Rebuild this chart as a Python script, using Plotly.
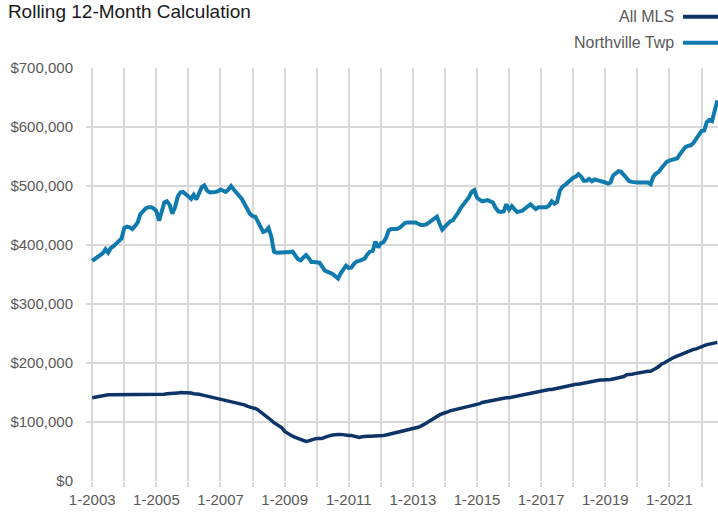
import pandas as pd
import plotly.graph_objects as go

# ---- data (thousands of $), monthly from Jan 2003 to Jul 2022 ----
start_month = "2003-01-01"

northville_k = [
    373, 377, 380, 383, 386, 393, 387, 395, 398, 403, 406, 411,   # 2003
    429, 431, 430, 427, 432, 438, 452, 458, 462, 464, 464, 462,   # 2004
    457, 441, 455, 472, 474, 468, 453, 464, 482, 489, 490, 487,   # 2005
    482, 478, 485, 477, 488, 498, 501, 492, 489, 489, 490, 491,   # 2006
    494, 492, 490, 494, 500, 494, 489, 485, 478, 470, 460, 453,   # 2007
    449, 448, 440, 430, 422, 424, 429, 415, 389, 387, 387, 387,   # 2008
    387, 387, 388, 389, 382, 376, 374, 378, 383, 378, 371, 371,   # 2009
    371, 370, 364, 357, 355, 353, 351, 347, 343, 352, 360, 365,   # 2010
    361, 362, 368, 372, 373, 375, 377, 384, 389, 390, 406, 396,   # 2011
    403, 405, 412, 425, 427, 427, 427, 429, 434, 437, 438, 438,   # 2012
    439, 438, 436, 434, 434, 435, 438, 441, 444, 448, 436, 426,   # 2013
    431, 436, 440, 442, 448, 455, 463, 469, 476, 481, 490, 493,   # 2014
    480, 476, 474, 475, 476, 474, 472, 463, 457, 456, 457, 469,   # 2015
    460, 466, 462, 456, 457, 458, 462, 466, 469, 465, 461, 464,   # 2016
    464, 464, 464, 467, 474, 470, 473, 492, 499, 502, 506, 511,   # 2017
    514, 516, 520, 516, 509, 509, 512, 508, 511, 510, 509, 508,   # 2018
    506, 504, 506, 518, 522, 525, 524, 518, 512, 508, 507, 506,   # 2019
    506, 506, 506, 506, 506, 503, 516, 521, 524, 530, 537, 541,   # 2020
    543, 544, 545, 547, 554, 561, 566, 568, 569, 573, 580, 589,   # 2021
    593, 594, 608, 612, 610, 628, 645,                            # 2022
]

all_mls_k = [
    141, 142, 143, 144, 145, 145, 146, 146, 146, 146, 146, 146,   # 2003
    146, 146, 146, 146, 146, 146, 146, 146, 146, 146, 146, 146,   # 2004
    146, 146, 147, 147, 148, 148, 148, 149, 149, 150, 150, 150,   # 2005
    150, 149, 148, 148, 147, 146, 145, 144, 142, 141, 140, 139,   # 2006
    138, 137, 136, 136, 135, 134, 133, 132, 130, 129, 127, 125,   # 2007
    124, 123, 121, 117, 114, 110, 107, 103, 99, 96, 93, 90,       # 2008
    84, 81, 78, 76, 74, 72, 70, 68, 67, 68, 70, 71,               # 2009
    72, 72, 72, 74, 76, 77, 78, 79, 79, 79, 78, 78,               # 2010
    77, 77, 76, 75, 74, 75, 76, 76, 76, 76, 76, 76,               # 2011
    76, 77, 78, 79, 80, 81, 82, 83, 84, 85, 86, 87,               # 2012
    88, 89, 91, 93, 95, 98, 101, 104, 107, 110, 112, 114,         # 2013
    115, 117, 119, 120, 121, 122, 123, 124, 126, 127, 128, 129,   # 2014
    130, 131, 133, 134, 135, 136, 137, 138, 139, 140, 140, 141,   # 2015
    141, 142, 143, 144, 145, 146, 146, 147, 148, 149, 150, 151,   # 2016
    152, 153, 154, 155, 155, 156, 157, 158, 159, 161, 162, 163,   # 2017
    163, 164, 164, 165, 166, 166, 167, 168, 169, 170, 171, 171,   # 2018
    171, 172, 172, 173, 174, 175, 176, 177, 180, 180, 181, 182,   # 2019
    183, 184, 185, 186, 186, 186, 188, 191, 194, 198, 200, 203,   # 2020
    206, 208, 210, 212, 214, 216, 218, 220, 222, 223, 224, 226,   # 2021
    227, 229, 231, 232, 233, 234, 235,                            # 2022
]

tick_years = list(range(2003, 2023))
tick_labels = [f"1-{y}" if y % 2 == 1 else "" for y in tick_years]
y_ticks = [0, 100000, 200000, 300000, 400000, 500000, 600000, 700000]
y_tick_labels = ["$0", "$100,000", "$200,000", "$300,000", "$400,000",
                 "$500,000", "$600,000", "$700,000"]

series_names = ["All MLS", "Northville Twp"]
series_colors = ["#0C3466", "#0E7AAE"]

dates = pd.date_range(start_month, periods=len(northville_k), freq="MS")
northville = [v * 1000 for v in northville_k]
all_mls = [v * 1000 for v in all_mls_k]

FONT = "Liberation Sans, Arial, sans-serif"
GRID = "#d9d9d9"

fig = go.Figure()
fig.add_trace(go.Scatter(x=dates, y=northville, mode="lines", name=series_names[1],
                         line=dict(color=series_colors[1], width=4), showlegend=False))
fig.add_trace(go.Scatter(x=dates, y=all_mls, mode="lines", name=series_names[0],
                         line=dict(color=series_colors[0], width=3.5), showlegend=False))

fig.update_layout(
    width=718, height=515,
    margin=dict(l=86, r=0, t=68, b=34),
    paper_bgcolor="white", plot_bgcolor="white",
    font=dict(family=FONT, size=15, color="#595959"),
    title=dict(text="Rolling 12-Month Calculation", x=0.011, xanchor="left",
               y=0.977, yanchor="middle",
               font=dict(family=FONT, size=19, color="#1a1a1a")),
    xaxis=dict(
        type="date",
        range=["2002-10-22", "2022-07-08"],
        tickvals=[pd.Timestamp(f"{y}-01-01") for y in tick_years],
        ticktext=tick_labels,
        showgrid=True, gridcolor=GRID, gridwidth=2,
        ticks="outside", ticklen=5, tickwidth=2, tickcolor=GRID,
        showline=False, zeroline=False, automargin=False,
        tickfont=dict(size=15, color="#595959"),
    ),
    yaxis=dict(
        range=[0, 700000],
        tickvals=y_ticks,
        ticktext=y_tick_labels,
        showgrid=True, gridcolor=GRID, gridwidth=2,
        zeroline=False, showline=False, automargin=False,
        ticklabelstandoff=12,
        tickfont=dict(size=15, color="#595959"),
    ),
)

# legend drawn at top right: text then line sample
legend_y = [1.1243, 1.0612]
for name, color, yy in zip(series_names, series_colors, legend_y):
    fig.add_annotation(xref="paper", yref="paper", x=0.9335, y=yy, text=name,
                       showarrow=False, xanchor="right", yanchor="middle",
                       font=dict(family=FONT, size=16, color="#595959"))
    fig.add_shape(type="line", xref="paper", yref="paper", x0=0.9446, x1=1.0,
                  y0=yy, y1=yy, line=dict(color=color, width=4))

fig.write_html("out.html",
               config={"displayModeBar": False},
               post_script="document.body.style.margin='0';"
                           "document.body.style.overflow='hidden';")
